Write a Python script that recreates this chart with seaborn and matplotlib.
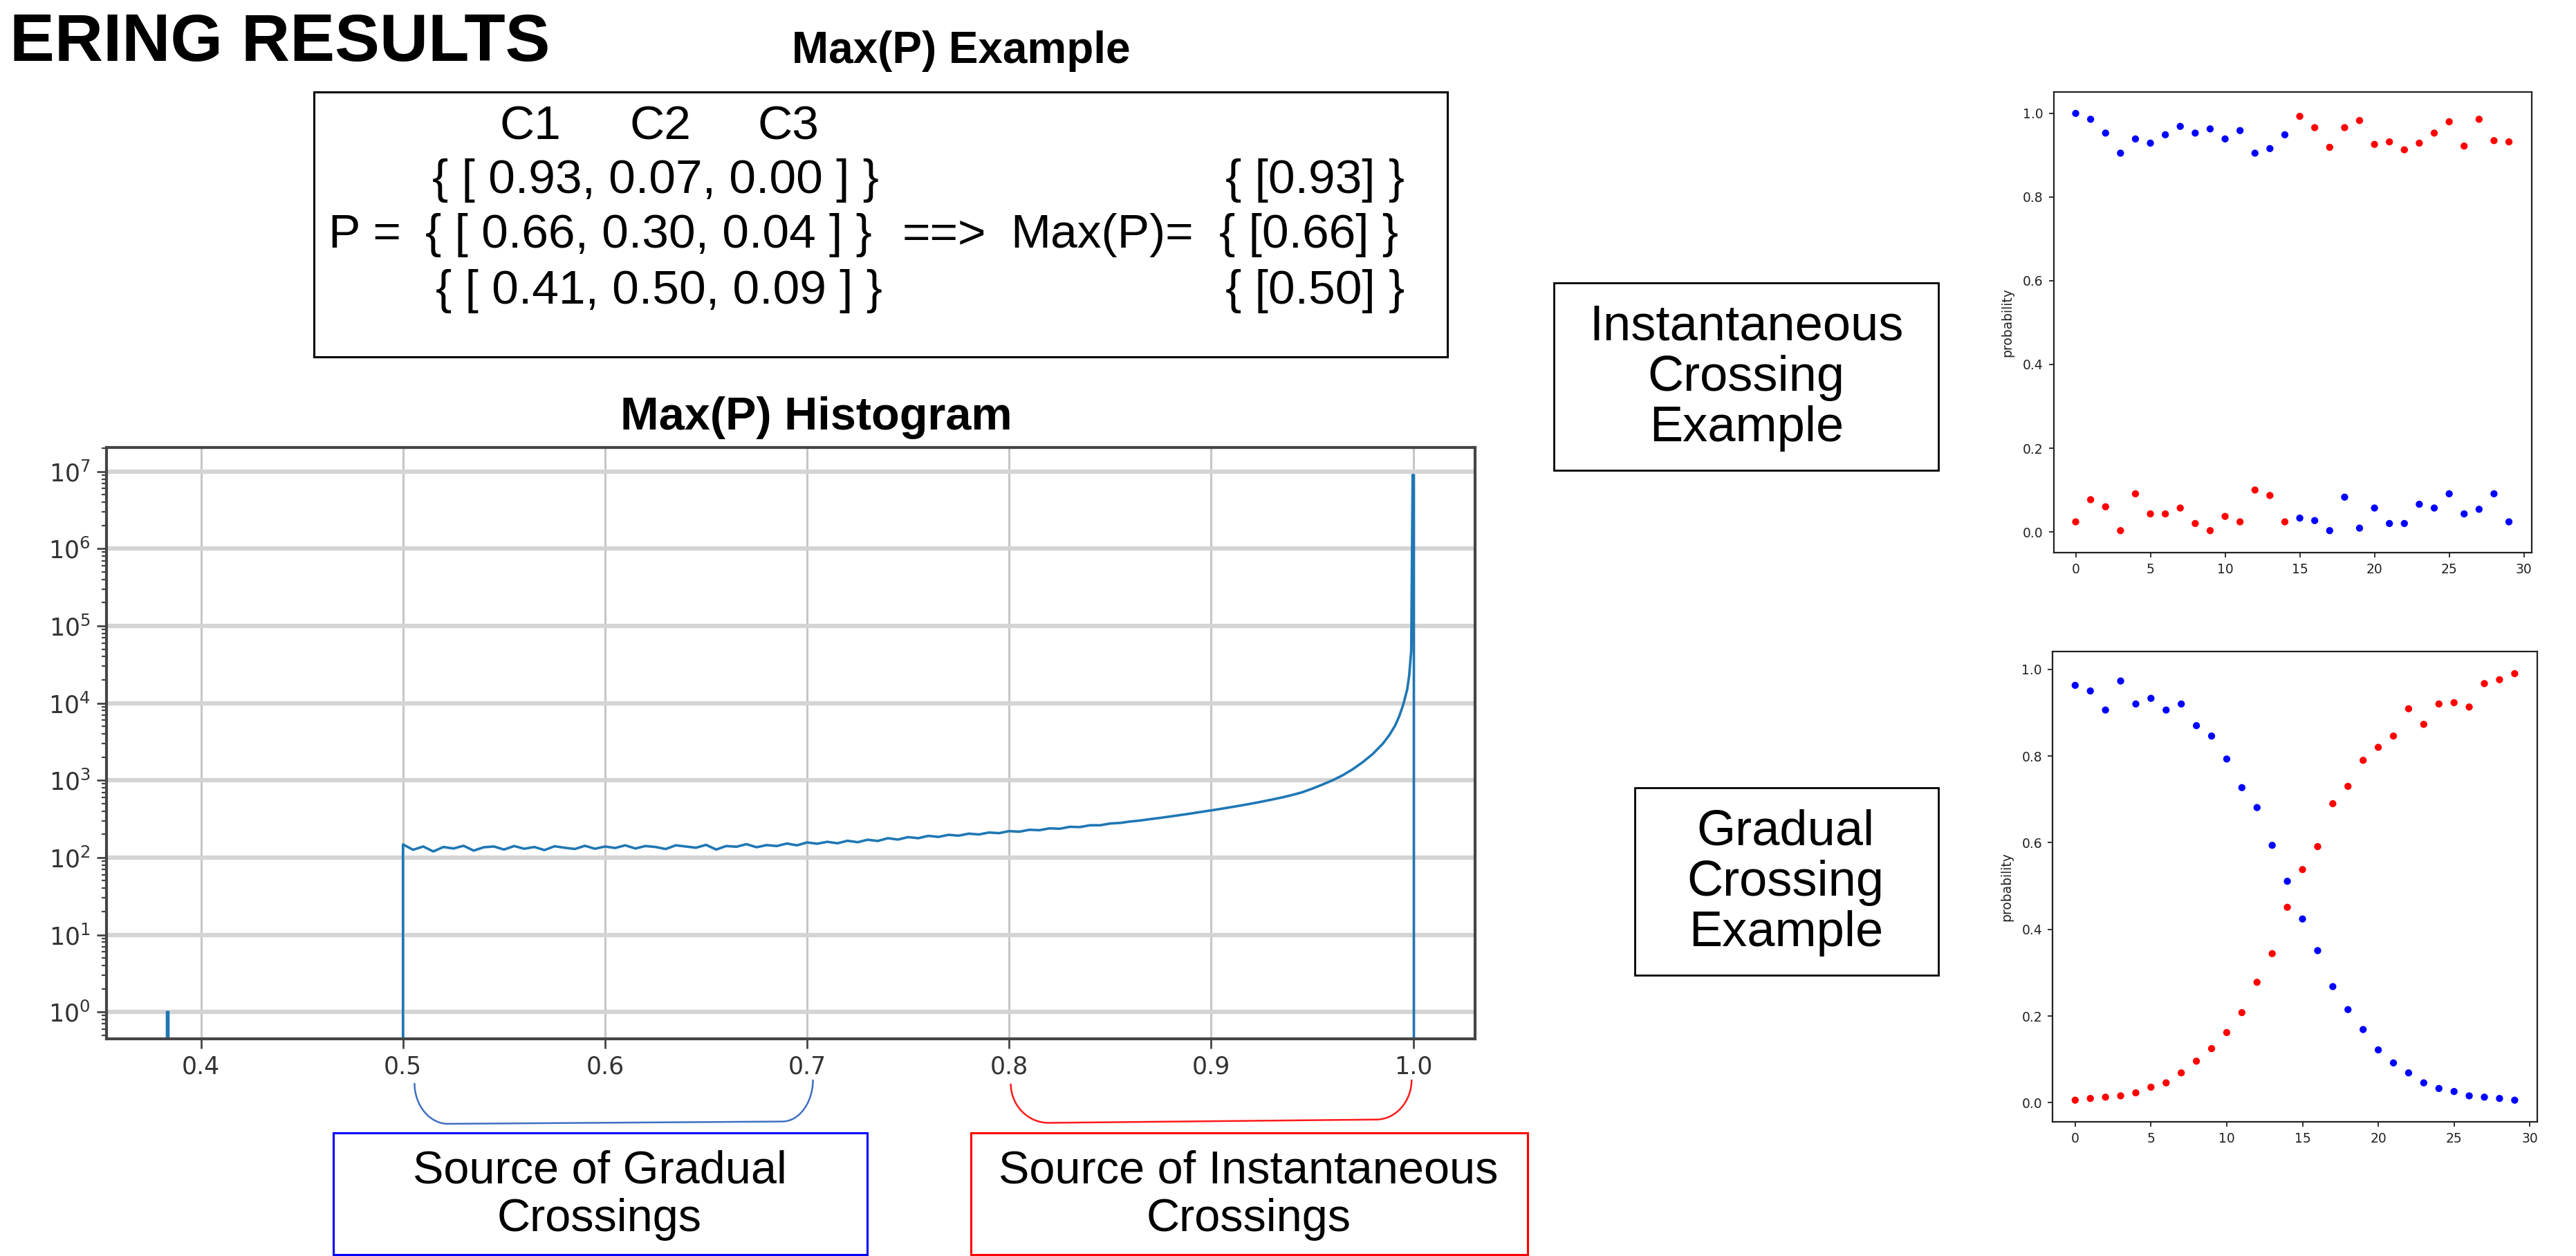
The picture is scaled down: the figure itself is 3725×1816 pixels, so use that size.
import numpy as np
import pandas as pd
import matplotlib
matplotlib.use("Agg")
import matplotlib.pyplot as plt
import matplotlib.transforms as mtransforms
from matplotlib.patches import Rectangle, PathPatch
from matplotlib.path import Path
import seaborn as sns

# ---------------- data ----------------
class_labels = ["C1", "C2", "C3"]
p_rows = [[0.93, 0.07, 0.00],
          [0.66, 0.30, 0.04],
          [0.41, 0.50, 0.09]]

# Max(P) histogram outline: positions and counts
hist_x = [
    0.3534, 0.3832, 0.3832, 0.3839, 0.3839, 0.500,
    0.500, 0.505, 0.510, 0.515, 0.520, 0.525, 0.530, 0.535, 0.540, 0.545,
    0.550, 0.555, 0.560, 0.565, 0.570, 0.575, 0.580, 0.585, 0.590, 0.595,
    0.600, 0.605, 0.610, 0.615, 0.620, 0.625, 0.630, 0.635, 0.640, 0.645,
    0.650, 0.655, 0.660, 0.665, 0.670, 0.675, 0.680, 0.685, 0.690, 0.695,
    0.700, 0.705, 0.710, 0.715, 0.720, 0.725, 0.730, 0.735, 0.740, 0.745,
    0.750, 0.755, 0.760, 0.765, 0.770, 0.775, 0.780, 0.785, 0.790, 0.795,
    0.800, 0.805, 0.810, 0.815, 0.820, 0.825, 0.830, 0.835, 0.840, 0.845,
    0.850, 0.855, 0.860, 0.865, 0.870, 0.875, 0.880, 0.885, 0.890, 0.895,
    0.900, 0.905, 0.910, 0.915, 0.920, 0.925, 0.930, 0.935, 0.940, 0.945,
    0.950, 0.955, 0.960, 0.965, 0.970, 0.975, 0.980, 0.985, 0.988, 0.991,
    0.993, 0.995, 0.997, 0.998, 0.999, 0.9997, 1.0003, 1.0003, 1.0307]
hist_counts = [
    0, 0, 1, 1, 0, 0,
    148, 126, 139, 120, 137, 131, 142, 123, 136, 139,
    127, 141, 130, 137, 125, 140, 134, 129, 142, 130,
    139, 133, 144, 131, 141, 137, 129, 144, 139, 134,
    146, 127, 141, 138, 149, 136, 145, 141, 152, 144,
    157, 151, 160, 153, 165, 158, 170, 164, 178, 171,
    184, 178, 191, 185, 197, 192, 204, 199, 211, 207,
    220, 216, 229, 226, 239, 236, 250, 248, 262, 262,
    276, 281, 293, 302, 315, 327, 341, 356, 372, 390,
    408, 428, 450, 474, 500, 530, 563, 600, 645, 700,
    780, 880, 1000, 1160, 1390, 1720, 2200, 3000, 3800, 5100,
    6700, 9500, 15000, 23000, 48000, 9.0e6, 9.0e6, 0, 0]

time_steps = list(range(30))
inst_blue = [1.000, 0.986, 0.953, 0.905, 0.939, 0.929, 0.949, 0.969, 0.953, 0.963,
             0.939, 0.959, 0.905, 0.916, 0.949, 0.033, 0.027, 0.003, 0.083, 0.009,
             0.057, 0.020, 0.020, 0.066, 0.057, 0.091, 0.043, 0.054, 0.091, 0.024]
inst_red = [0.024, 0.077, 0.060, 0.003, 0.091, 0.043, 0.043, 0.057, 0.020, 0.003,
            0.037, 0.024, 0.100, 0.087, 0.024, 0.993, 0.966, 0.919, 0.966, 0.983,
            0.926, 0.932, 0.913, 0.929, 0.953, 0.980, 0.922, 0.986, 0.935, 0.932]
grad_blue = [0.963, 0.950, 0.906, 0.973, 0.920, 0.933, 0.906, 0.920, 0.870, 0.846,
             0.793, 0.727, 0.681, 0.594, 0.511, 0.424, 0.351, 0.268, 0.215, 0.169,
             0.122, 0.092, 0.069, 0.046, 0.033, 0.026, 0.016, 0.013, 0.010, 0.006]
grad_red = [0.006, 0.010, 0.013, 0.016, 0.023, 0.036, 0.046, 0.069, 0.096, 0.125,
            0.162, 0.208, 0.278, 0.344, 0.451, 0.538, 0.591, 0.690, 0.730, 0.790,
            0.820, 0.846, 0.909, 0.873, 0.920, 0.923, 0.913, 0.967, 0.976, 0.990]

hist_xticks = [0.4, 0.5, 0.6, 0.7, 0.8, 0.9, 1.0]
dot_xticks = [0, 5, 10, 15, 20, 25, 30]
dot_yticks = [0.0, 0.2, 0.4, 0.6, 0.8, 1.0]

# ---------------- style ----------------
sns.set_style("ticks")
plt.rcParams["font.family"] = ["DejaVu Sans"]
plt.rcParams["mathtext.fontset"] = "dejavusans"
SLIDE = ["Liberation Sans", "DejaVu Sans"]

fig = plt.figure(figsize=(37.25, 18.16), dpi=100)
fig.patch.set_facecolor("white")
W, H = 1568.0, 764.0


def fx(x):
    return x / W


def fy(y):
    return 1.0 - y / H


def stext(x, y, s, size, ha="center", va="center", weight="normal", ls=1.2):
    fig.text(fx(x), fy(y), s, ha=ha, va=va, fontsize=size, family=SLIDE,
             weight=weight, linespacing=ls, color="black")


# ---------------- slide titles ----------------
stext(335, 37, "ERING RESULTS", 70, ha="right", va="baseline", weight="bold")
stext(585, 31, "Max(P) Example", 46, weight="bold")
stext(497, 254, "Max(P) Histogram", 48, weight="bold")

# ---------------- Max(P) example box ----------------
fig.add_artist(Rectangle((fx(191), fy(217)), fx(881) - fx(191), fy(56) - fy(217),
                         transform=fig.transFigure, fill=False, ec="black", lw=2.2))
for lab, cx in zip(class_labels, [323, 402, 480]):
    stext(cx, 77, lab, 50)
row_y = [110, 143, 177]
row_left = [263, 259, 265]
max_right = [855, 851, 855]
for row, y, xl, xr in zip(p_rows, row_y, row_left, max_right):
    s = "{ [ " + ", ".join(f"{v:.2f}" for v in row) + " ] }"
    stext(xl, y, s, 50, ha="left")
    stext(xr, y, "{ [" + f"{max(row):.2f}" + "] }", 50, ha="right")
stext(200, 143, "P =", 50, ha="left")
stext(549, 143, "==>", 50, ha="left")
stext(615, 143, "Max(P)=", 50, ha="left")

# ---------------- histogram ----------------
ax = fig.add_axes([fx(65), fy(632), fx(898) - fx(65), fy(272) - fy(632)])
hist_df = pd.DataFrame({"max_p": hist_x, "count": hist_counts})
sns.lineplot(data=hist_df, x="max_p", y="count", estimator=None, sort=False,
             color="#1f77b4", linewidth=2.6, ax=ax)
ax.set_yscale("log", nonpositive="clip")
ax.set_xlim(0.3534, 1.0307)
ax.set_ylim(10 ** -0.35, 10 ** 7.315)
ax.set_xticks(hist_xticks)
ax.set_yticks([10.0 ** k for k in range(8)])
ax.set_axisbelow(True)
ax.grid(axis="x", which="major", color="#c6c6c6", lw=2.2)
ax.grid(axis="y", which="major", color="#d4d4d4", lw=4.5)
ax.set_xlabel("")
ax.set_ylabel("")
for sp in ax.spines.values():
    sp.set_color("#454545")
    sp.set_linewidth(3)
ax.tick_params(axis="both", which="major", direction="out", length=10, width=2,
               color="#454545", labelcolor="#333333", pad=7)
ax.tick_params(axis="x", which="major", labelsize=25)
ax.tick_params(axis="y", which="major", labelsize=25)
ax.tick_params(axis="y", which="minor", direction="out", length=5, width=1.6,
               color="#454545")
ax.tick_params(axis="x", which="minor", length=0)

# brackets under the histogram
trans = mtransforms.blended_transform_factory(ax.transData, fig.transFigure)


def bracket(x0, x1, ylt, ylb, yrb, yrt, wl, wr, color):
    k = 0.55
    verts = [(x0, ylt),
             (x0, ylt + k * (ylb - ylt)), (x0 + (1 - k) * wl, ylb), (x0 + wl, ylb),
             (x1 - wr, yrb),
             (x1 - (1 - k) * wr, yrb), (x1, yrt + k * (yrb - yrt)), (x1, yrt)]
    codes = [Path.MOVETO, Path.CURVE4, Path.CURVE4, Path.CURVE4, Path.LINETO,
             Path.CURVE4, Path.CURVE4, Path.CURVE4]
    fig.add_artist(PathPatch(Path(verts, codes), transform=trans, fill=False,
                             ec=color, lw=1.8))


bracket(0.5057, 0.7029, fy(658.8), fy(683.6), fy(682.2), fy(656.7), 0.0166, 0.0152, "#3f6fc2")
bracket(0.8008, 0.9992, fy(659.2), fy(683.0), fy(681.0), fy(656.7), 0.0187, 0.0175, "#ff1a1a")

# source boxes
fig.add_artist(Rectangle((fx(203), fy(763)), fx(528) - fx(203), fy(689) - fy(763),
                         transform=fig.transFigure, fill=False, ec="#0000ff", lw=2.2))
fig.add_artist(Rectangle((fx(591), fy(763)), fx(930) - fx(591), fy(689) - fy(763),
                         transform=fig.transFigure, fill=False, ec="#ff0000", lw=2.2))
stext(365, 727, "Source of Gradual\nCrossings", 48, ls=1.15)
stext(760, 727, "Source of Instantaneous\nCrossings", 48, ls=1.15)

# example boxes
fig.add_artist(Rectangle((fx(946), fy(286)), fx(1180) - fx(946), fy(172) - fy(286),
                         transform=fig.transFigure, fill=False, ec="black", lw=2.0))
fig.add_artist(Rectangle((fx(995), fy(593)), fx(1180) - fx(995), fy(479) - fy(593),
                         transform=fig.transFigure, fill=False, ec="black", lw=2.0))
stext(1063, 230, "Instantaneous\nCrossing\nExample", 52, ls=1.12)
stext(1087, 537, "Gradual\nCrossing\nExample", 52, ls=1.12)


# ---------------- dot panels ----------------
def dot_panel(rect, blue, red, xlim, ylim):
    a = fig.add_axes(rect)
    df = pd.DataFrame({"step": time_steps * 2,
                       "probability": blue + red,
                       "cluster": ["blue"] * len(blue) + ["red"] * len(red)})
    sns.scatterplot(data=df, x="step", y="probability", hue="cluster",
                    palette={"blue": "#0000ff", "red": "#ff0000"}, s=55,
                    linewidth=0, legend=False, ax=a)
    a.set_xlim(*xlim)
    a.set_ylim(*ylim)
    a.set_xticks(dot_xticks)
    a.set_yticks(dot_yticks)
    a.set_xlabel("")
    a.set_ylabel("probability", fontsize=13.5, color="#222222", labelpad=9)
    for sp in a.spines.values():
        sp.set_color("#222222")
        sp.set_linewidth(1.6)
    a.tick_params(direction="out", length=5, width=1.3, color="#222222",
                  labelcolor="#222222", labelsize=13.5, pad=6)
    return a


dot_panel([fx(1250), fy(336), fx(1541) - fx(1250), fy(56) - fy(336)],
          inst_blue, inst_red, (-1.48, 30.52), (-0.049, 1.051))
dot_panel([fx(1249.5), fy(682.4), fx(1544.6) - fx(1249.5), fy(396.3) - fy(682.4)],
          grad_blue, grad_red, (-1.48, 30.51), (-0.044, 1.041))

fig.savefig("out.png", dpi=100, facecolor="white")
